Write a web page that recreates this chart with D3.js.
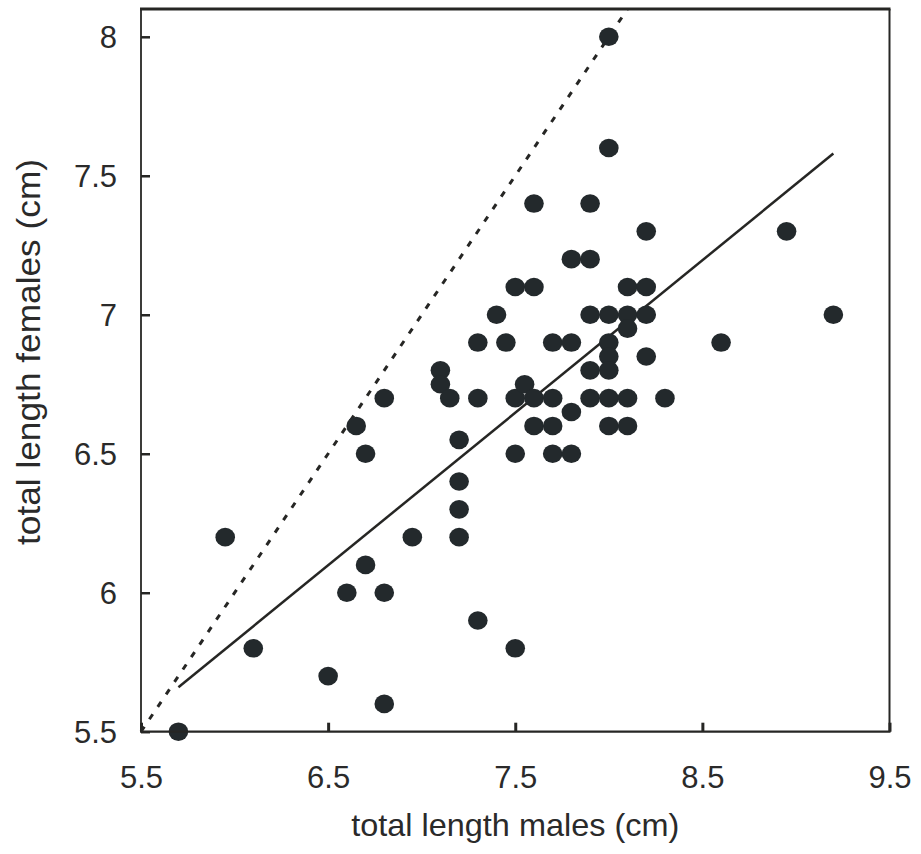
<!DOCTYPE html>
<html>
<head>
<meta charset="utf-8">
<script src="https://cdn.jsdelivr.net/npm/d3@7"></script>
<style>
  html, body { margin: 0; padding: 0; background: #fff; }
  svg { display: block; }
  text { font-family: "Liberation Sans", Arial, sans-serif; fill: #2a2a2a; }
</style>
</head>
<body>
<svg id="chart" width="921" height="854"></svg>
<script>
// ---- data ----
const malesCm = [5.7, 5.95, 6.1, 6.5, 6.6, 6.65, 6.7, 6.7, 6.8, 6.8, 6.8, 6.95,
  7.1, 7.1, 7.15, 7.2, 7.2, 7.2, 7.2, 7.3, 7.3, 7.3, 7.4, 7.45, 7.5, 7.5, 7.5, 7.5,
  7.55, 7.6, 7.6, 7.6, 7.6, 7.7, 7.7, 7.7, 7.7, 7.8, 7.8, 7.8, 7.8,
  7.9, 7.9, 7.9, 7.9, 7.9, 8.0, 8.0, 8.0, 8.0, 8.0, 8.0, 8.0, 8.0,
  8.1, 8.1, 8.1, 8.1, 8.1, 8.2, 8.2, 8.2, 8.2, 8.3, 8.6, 8.95, 9.2];
const femalesCm = [5.5, 6.2, 5.8, 5.7, 6.0, 6.6, 6.1, 6.5, 6.0, 5.6, 6.7, 6.2,
  6.8, 6.75, 6.7, 6.55, 6.4, 6.3, 6.2, 6.9, 6.7, 5.9, 7.0, 6.9, 7.1, 6.7, 6.5, 5.8,
  6.75, 7.4, 7.1, 6.7, 6.6, 6.9, 6.7, 6.6, 6.5, 7.2, 6.9, 6.65, 6.5,
  7.4, 7.2, 7.0, 6.8, 6.7, 8.0, 7.6, 7.0, 6.9, 6.85, 6.8, 6.7, 6.6,
  7.1, 7.0, 6.95, 6.7, 6.6, 7.3, 7.1, 7.0, 6.85, 6.7, 6.9, 7.3, 7.0];
const xTicks = [5.5, 6.5, 7.5, 8.5, 9.5];
const yTicks = [5.5, 6, 6.5, 7, 7.5, 8];
const xDomain = [5.5, 9.5];
const yDomain = [5.5, 8.1];
const identityLine = [[5.5, 5.5], [8.1, 8.1]];
const regressionLine = [[5.7, 5.66], [9.2, 7.58]];
const xTitle = "total length males (cm)";
const yTitle = "total length females (cm)";

// ---- layout ----
const L = 141, R = 889.5, T = 9, B = 731.7;
const svg = d3.select("#chart");
const x = d3.scaleLinear().domain(xDomain).range([L, R]);
const y = d3.scaleLinear().domain(yDomain).range([B, T]);
const ink = "#262624";
const dot = "#23292c";

// lines
const lineGen = d3.line().x(d => x(d[0])).y(d => y(d[1]));
svg.append("path").attr("d", lineGen(identityLine))
  .attr("fill", "none").attr("stroke", ink).attr("stroke-width", 3)
  .attr("stroke-dasharray", "6,9");
svg.append("path").attr("d", lineGen(regressionLine))
  .attr("fill", "none").attr("stroke", ink).attr("stroke-width", 2.5);

// points
const pts = malesCm.map((m, i) => [m, femalesCm[i]]);
svg.append("g").selectAll("ellipse").data(pts).join("ellipse")
  .attr("cx", d => x(d[0])).attr("cy", d => y(d[1]))
  .attr("rx", 9.8).attr("ry", 9.3).attr("fill", dot);

// axes (ticks inside)
const xAxis = svg.append("g").attr("transform", `translate(0,${B})`)
  .call(d3.axisBottom(x).tickValues(xTicks).tickSizeInner(-9).tickSizeOuter(0).tickFormat(d3.format("")));
xAxis.select(".domain").remove();
xAxis.selectAll(".tick line").attr("stroke", ink).attr("stroke-width", 3);
xAxis.selectAll(".tick text").attr("y", 0).attr("dy", 56).attr("font-size", 31).attr("fill", "#2a2a2a");

const yAxis = svg.append("g").attr("transform", `translate(${L},0)`)
  .call(d3.axisLeft(y).tickValues(yTicks).tickSizeInner(-9).tickSizeOuter(0).tickFormat(d3.format("")));
yAxis.select(".domain").remove();
yAxis.selectAll(".tick line").attr("stroke", ink).attr("stroke-width", 2.5);
yAxis.selectAll(".tick text").attr("x", -24).attr("dy", "0.36em").attr("font-size", 31).attr("fill", "#2a2a2a");

// frame
svg.append("line").attr("x1", L).attr("x2", L).attr("y1", T).attr("y2", B)
  .attr("stroke", ink).attr("stroke-width", 1.8);
svg.append("line").attr("x1", R).attr("x2", R).attr("y1", T).attr("y2", B)
  .attr("stroke", ink).attr("stroke-width", 2);
svg.append("line").attr("x1", L - 1).attr("x2", R + 1).attr("y1", T).attr("y2", T)
  .attr("stroke", ink).attr("stroke-width", 3);
svg.append("line").attr("x1", L - 1).attr("x2", R + 1).attr("y1", B).attr("y2", B)
  .attr("stroke", ink).attr("stroke-width", 2.2);

// titles
svg.append("text").attr("x", (L + R) / 2).attr("y", 836)
  .attr("text-anchor", "middle").attr("font-size", 32)
  .attr("textLength", 328).attr("lengthAdjust", "spacingAndGlyphs").text(xTitle);
svg.append("text").attr("transform", `translate(40,352) rotate(-90)`)
  .attr("text-anchor", "middle").attr("font-size", 33)
  .attr("textLength", 386).attr("lengthAdjust", "spacingAndGlyphs").text(yTitle);
</script>
</body>
</html>
